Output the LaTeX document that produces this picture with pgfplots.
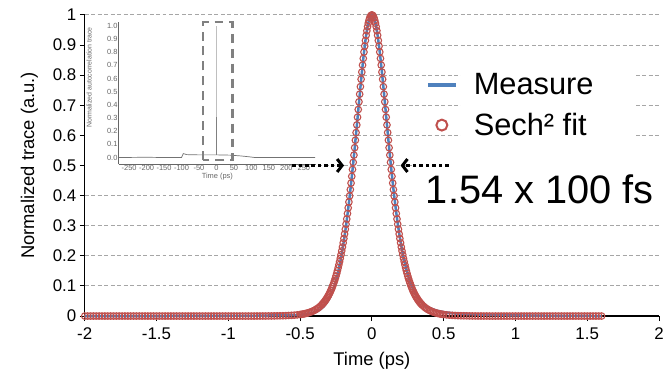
\documentclass[border=0pt]{standalone}
\usepackage{pgfplots}
\pgfplotsset{compat=1.18}
\usepackage{fontspec}
\setmainfont{Liberation Sans}
\usetikzlibrary{arrows.meta}
\definecolor{mblue}{HTML}{4F81BD}
\definecolor{fred}{HTML}{C0504D}
\definecolor{gridgray}{HTML}{A6A6A6}
\pgfplotsset{
  measleg/.style={legend image code/.code={\draw[##1, line width=4bp] (-14bp,0bp) -- (14bp,0bp); \path[draw=none,fill=none] (-15bp,0bp) (31bp,0bp);}},
  fitleg/.style={legend image code/.code={\draw[##1, mark size=5.5bp, mark options={line width=2bp}] plot coordinates {(0bp,0bp)}; \path[draw=none,fill=none] (-15bp,0bp) (31bp,0bp);}},
}
\begin{document}
\begin{tikzpicture}
\begin{axis}[
  name=main, at={(0,0)}, anchor=south west,
  scale only axis, width=576bp, height=302bp,
  xmin=-2, xmax=2, ymin=0, ymax=1,
  axis x line*=bottom, axis y line*=left,
  x axis line style={-}, y axis line style={-},
  axis line style={black, line width=1.2bp},
  xtick={-2,-1.5,-1,-0.5,0,0.5,1,1.5,2},
  xticklabels={-2,-1.5,-1,-0.5,0,0.5,1,1.5,2},
  ytick={0,0.1,0.2,0.3,0.4,0.5,0.6,0.7,0.8,0.9,1},
  yticklabels={0,0.1,0.2,0.3,0.4,0.5,0.6,0.7,0.8,0.9,1},
  tick align=outside, major tick length=5bp,
  tick style={black, line width=1bp},
  tick label style={font=\fontsize{17}{17}\selectfont},
  xticklabel style={yshift=-3bp},
  ymajorgrids, grid style={gridgray, line width=1bp, dash pattern=on 4bp off 2.5bp},
  xlabel={Time (ps)}, ylabel={Normalized trace (a.u.)},
  label style={font=\fontsize{18.5}{19}\selectfont},
  xlabel style={yshift=-6bp},
  ylabel style={yshift=8bp},
  clip=false,
  legend cell align=left,
  legend style={at={(axis cs:0.375,0.700)}, anchor=west, draw=none, fill=none,
    inner sep=0pt, row sep=15bp, font=\fontsize{31}{31}\selectfont,
    nodes={inner sep=1bp}},
]
% white areas behind the inset, the legend and the annotation
\fill[white] (axis cs:-2,0.42) rectangle (axis cs:-0.382,0.983);
\fill[white] (axis cs:0.618,0.57) rectangle (axis cs:1.84,0.855);
\fill[white] (axis cs:0.278,0.338) rectangle (axis cs:2,0.527);

\addplot[mblue, line width=2.5bp, measleg]
  table[row sep=\\] {x y\\
-2.00 0\\ -1.50 0\\ -1.00 0.001\\ -0.80 0.001\\ -0.70 0.002\\ -0.60 0.002\\ -0.55 0.003\\ -0.50 0.004\\ -0.45 0.007\\
-0.40 0.012\\ -0.38 0.016\\ -0.36 0.022\\ -0.34 0.030\\ -0.32 0.041\\ -0.30 0.055\\ -0.29 0.064\\ -0.28 0.075\\
-0.27 0.087\\ -0.26 0.100\\ -0.25 0.117\\ -0.24 0.135\\ -0.23 0.157\\ -0.22 0.180\\ -0.21 0.207\\ -0.20 0.235\\
-0.19 0.266\\ -0.18 0.300\\ -0.17 0.337\\ -0.16 0.376\\ -0.15 0.418\\ -0.14 0.462\\ -0.13 0.508\\ -0.12 0.556\\
-0.11 0.606\\ -0.10 0.657\\ -0.09 0.708\\ -0.08 0.759\\ -0.07 0.808\\ -0.06 0.854\\ -0.05 0.896\\ -0.04 0.932\\
-0.03 0.962\\ -0.02 0.983\\ -0.01 0.996\\ 0.00 1.000\\ 0.01 0.996\\ 0.02 0.983\\ 0.03 0.962\\ 0.04 0.932\\
0.05 0.896\\ 0.06 0.855\\ 0.07 0.810\\ 0.08 0.762\\ 0.09 0.712\\ 0.10 0.661\\ 0.11 0.610\\ 0.12 0.560\\
0.13 0.512\\ 0.14 0.466\\ 0.15 0.422\\ 0.16 0.381\\ 0.17 0.343\\ 0.18 0.308\\ 0.19 0.276\\ 0.20 0.247\\
0.21 0.220\\ 0.22 0.196\\ 0.23 0.175\\ 0.24 0.155\\ 0.25 0.138\\ 0.26 0.123\\ 0.27 0.109\\ 0.28 0.097\\
0.29 0.087\\ 0.30 0.077\\ 0.32 0.062\\ 0.34 0.050\\ 0.36 0.040\\ 0.38 0.033\\ 0.40 0.027\\ 0.45 0.018\\
0.50 0.013\\ 0.55 0.010\\ 0.60 0.008\\ 0.70 0.006\\ 0.80 0.004\\ 0.90 0.003\\ 1.00 0.002\\ 1.20 0.001\\
1.40 0.0005\\ 1.60 0\\
};
\addlegendentry{Measure}

\addplot[fred, only marks, mark=o, mark size=3.3bp, mark options={line width=1.1bp}, fitleg]
  table[row sep=\\] {x y\\
-2.00 0\\ -1.98 0\\ -1.96 0\\ -1.94 0\\ -1.92 0\\ -1.90 0\\ -1.88 0\\ -1.86 0\\ -1.84 0\\ -1.82 0\\
-1.80 0\\ -1.78 0\\ -1.76 0\\ -1.74 0\\ -1.72 0\\ -1.70 0\\ -1.68 0\\ -1.66 0\\ -1.64 0\\ -1.62 0\\
-1.60 0\\ -1.58 0\\ -1.56 0\\ -1.54 0\\ -1.52 0\\ -1.50 0\\ -1.48 0\\ -1.46 0\\ -1.44 0\\ -1.42 0\\
-1.40 0\\ -1.38 0\\ -1.36 0\\ -1.34 0\\ -1.32 0\\ -1.30 0\\ -1.28 0\\ -1.26 0\\ -1.24 0\\ -1.22 0\\
-1.20 0\\ -1.18 0\\ -1.16 0\\ -1.14 0\\ -1.12 0\\ -1.10 0\\ -1.08 0\\ -1.06 0\\ -1.04 0\\ -1.02 0\\
-1.00 0\\ -0.98 0\\ -0.96 0\\ -0.94 0\\ -0.92 0\\ -0.90 0\\ -0.88 0\\ -0.86 0\\ -0.84 0\\ -0.82 0\\
-0.80 0.0001\\ -0.78 0.0001\\ -0.76 0.0002\\ -0.74 0.0002\\ -0.72 0.0003\\ -0.70 0.0004\\ -0.68 0.0005\\ -0.66 0.0007\\ -0.64 0.0008\\ -0.62 0.0010\\
-0.60 0.0013\\ -0.58 0.0018\\ -0.56 0.0023\\ -0.54 0.0030\\ -0.52 0.0039\\
-0.50 0.0051\\ -0.49 0.0058\\ -0.48 0.0066\\ -0.47 0.0076\\ -0.46 0.0086\\ -0.45 0.0099\\ -0.44 0.0113\\ -0.43 0.0129\\
-0.42 0.0147\\ -0.41 0.0168\\ -0.40 0.0191\\ -0.39 0.0218\\ -0.38 0.0249\\ -0.37 0.0284\\ -0.36 0.0324\\
-0.350 0.0369\\ -0.345 0.0394\\ -0.340 0.0421\\ -0.335 0.0449\\ -0.330 0.0479\\ -0.325 0.0511\\ -0.320 0.0546\\
-0.315 0.0582\\ -0.310 0.0621\\ -0.305 0.0663\\ -0.300 0.0707\\ -0.295 0.0753\\ -0.290 0.0803\\ -0.285 0.0856\\
-0.280 0.0912\\ -0.275 0.0972\\ -0.270 0.1036\\ -0.265 0.1103\\ -0.260 0.1174\\ -0.255 0.1250\\ -0.250 0.1330\\
-0.245 0.1415\\ -0.240 0.1505\\ -0.235 0.1600\\ -0.230 0.1701\\ -0.225 0.1807\\ -0.220 0.1919\\ -0.215 0.2037\\
-0.210 0.2162\\ -0.205 0.2292\\ -0.200 0.2430\\ -0.195 0.2574\\ -0.190 0.2726\\ -0.185 0.2884\\ -0.180 0.3050\\
-0.175 0.3223\\ -0.170 0.3404\\ -0.165 0.3592\\ -0.160 0.3787\\ -0.155 0.3990\\ -0.150 0.4200\\ -0.145 0.4416\\
-0.140 0.4640\\ -0.135 0.4869\\ -0.130 0.5105\\ -0.125 0.5345\\ -0.120 0.5591\\ -0.115 0.5840\\ -0.110 0.6093\\
-0.105 0.6347\\ -0.100 0.6604\\ -0.095 0.6860\\ -0.090 0.7116\\ -0.085 0.7369\\ -0.080 0.7618\\ -0.075 0.7865\\
-0.070 0.8103\\ -0.065 0.8335\\ -0.060 0.8556\\ -0.055 0.8768\\ -0.050 0.8966\\ -0.045 0.9151\\ -0.040 0.9322\\
-0.035 0.9475\\ -0.030 0.9610\\ -0.025 0.9727\\ -0.020 0.9825\\ -0.015 0.9901\\ -0.010 0.9956\\ -0.005 0.9989\\
0.000 1.0000\\
0.005 0.9989\\ 0.010 0.9956\\ 0.015 0.9901\\ 0.020 0.9825\\ 0.025 0.9727\\ 0.030 0.9610\\ 0.035 0.9475\\
0.040 0.9322\\ 0.045 0.9151\\ 0.050 0.8966\\ 0.055 0.8768\\ 0.060 0.8556\\ 0.065 0.8335\\ 0.070 0.8103\\
0.075 0.7865\\ 0.080 0.7618\\ 0.085 0.7369\\ 0.090 0.7116\\ 0.095 0.6860\\ 0.100 0.6604\\ 0.105 0.6347\\
0.110 0.6093\\ 0.115 0.5840\\ 0.120 0.5591\\ 0.125 0.5345\\ 0.130 0.5105\\ 0.135 0.4869\\ 0.140 0.4640\\
0.145 0.4416\\ 0.150 0.4200\\ 0.155 0.3990\\ 0.160 0.3787\\ 0.165 0.3592\\ 0.170 0.3404\\ 0.175 0.3223\\
0.180 0.3050\\ 0.185 0.2884\\ 0.190 0.2726\\ 0.195 0.2574\\ 0.200 0.2430\\ 0.205 0.2292\\ 0.210 0.2162\\
0.215 0.2037\\ 0.220 0.1919\\ 0.225 0.1807\\ 0.230 0.1701\\ 0.235 0.1600\\ 0.240 0.1505\\ 0.245 0.1415\\
0.250 0.1330\\ 0.255 0.1250\\ 0.260 0.1174\\ 0.265 0.1103\\ 0.270 0.1036\\ 0.275 0.0972\\ 0.280 0.0912\\
0.285 0.0856\\ 0.290 0.0803\\ 0.295 0.0753\\ 0.300 0.0707\\ 0.305 0.0663\\ 0.310 0.0621\\ 0.315 0.0582\\
0.320 0.0546\\ 0.325 0.0511\\ 0.330 0.0479\\ 0.335 0.0449\\ 0.340 0.0421\\ 0.345 0.0394\\ 0.350 0.0369\\
0.36 0.0324\\ 0.37 0.0284\\ 0.38 0.0249\\ 0.39 0.0218\\ 0.40 0.0191\\ 0.41 0.0168\\ 0.42 0.0147\\ 0.43 0.0129\\
0.44 0.0113\\ 0.45 0.0099\\ 0.46 0.0086\\ 0.47 0.0076\\ 0.48 0.0066\\ 0.49 0.0058\\ 0.50 0.0051\\
0.52 0.0039\\ 0.54 0.0030\\ 0.56 0.0023\\ 0.58 0.0018\\ 0.60 0.0013\\
0.62 0.0010\\ 0.64 0.0008\\ 0.66 0.0007\\ 0.68 0.0005\\ 0.70 0.0004\\ 0.72 0.0003\\ 0.74 0.0002\\ 0.76 0.0002\\ 0.78 0.0001\\ 0.80 0.0001\\
0.82 0\\ 0.84 0\\ 0.86 0\\ 0.88 0\\ 0.90 0\\ 0.92 0\\ 0.94 0\\ 0.96 0\\ 0.98 0\\ 1.00 0\\
1.02 0\\ 1.04 0\\ 1.06 0\\ 1.08 0\\ 1.10 0\\ 1.12 0\\ 1.14 0\\ 1.16 0\\ 1.18 0\\ 1.20 0\\
1.22 0\\ 1.24 0\\ 1.26 0\\ 1.28 0\\ 1.30 0\\ 1.32 0\\ 1.34 0\\ 1.36 0\\ 1.38 0\\ 1.40 0\\
1.42 0\\ 1.44 0\\ 1.46 0\\ 1.48 0\\ 1.50 0\\ 1.52 0\\ 1.54 0\\ 1.56 0\\ 1.58 0\\ 1.60 0\\
};
\addlegendentry{Sech² fit}

\coordinate (la0) at (axis cs:-0.556,0.5);
\coordinate (la1) at (axis cs:-0.194,0.5);
\coordinate (ra0) at (axis cs:0.535,0.5);
\coordinate (ra1) at (axis cs:0.200,0.5);
\coordinate (tx) at (axis cs:0.375,0.374);
\end{axis}

% inset: autocorrelation trace
\begin{axis}[
  at={(34bp,152.4bp)}, anchor=south west,
  scale only axis, width=198bp, height=142.6bp,
  xmin=-280, xmax=285, ymin=-0.05, ymax=1.03,
  axis x line*=bottom, axis y line*=left,
  x axis line style={-}, y axis line style={-},
  axis line style={black!60, line width=0.8bp},
  xtick={-250,-200,-150,-100,-50,0,50,100,150,200,250},
  xticklabels={-250,-200,-150,-100,-50,0,50,100,150,200,250},
  ytick={0,0.1,0.2,0.3,0.4,0.5,0.6,0.7,0.8,0.9,1},
  yticklabels={0.0,0.1,0.2,0.3,0.4,0.5,0.6,0.7,0.8,0.9,1.0},
  major tick length=0pt,
  tick label style={font=\fontsize{7.5}{8}\selectfont, text=black!60, inner sep=1bp},
  xlabel={Time (ps)}, ylabel={Normalized autocorrelation trace},
  xlabel style={font=\fontsize{7.5}{8}\selectfont, text=black!60, inner sep=1bp},
  every axis y label/.style={at={(axis description cs:-0.15,0.61)}, rotate=90, anchor=center,
    font=\fontsize{7}{7}\selectfont, text=black!60},
  clip=false,
]
\addplot[black!55, line width=0.7bp] coordinates {
(-280,0.0) (-200,0.002) (-150,0.0) (-100,0.0) (-95,0.03) (-85,0.022) (-50,0.02) (-5,0.02)
(5,0.02) (40,0.018) (70,0.012) (95,0.005) (110,0.0) (200,0.0) (282,0.0)};
\addplot[black!25, line width=1bp] coordinates {(0,0.30) (0,1.0)};
\addplot[black!50, line width=1bp] coordinates {(0,0.02) (0,0.31)};
\draw[black!50, line width=2.6bp, dash pattern=on 9bp off 6bp] (axis cs:-38,-0.02) rectangle (axis cs:46,1.03);
\end{axis}

% FWHM annotation
\draw[black, line width=3.5bp, dash pattern=on 3.5bp off 3bp,
  -{Straight Barb[length=5bp,width=13bp,line width=3bp]}] (la0) -- (la1);
\draw[black, line width=3.5bp, dash pattern=on 3.5bp off 3bp,
  -{Straight Barb[length=5bp,width=13bp,line width=3bp]}] (ra0) -- (ra1);
\node[anchor=base west, font=\fontsize{40}{40}\selectfont, inner sep=0pt] at (tx) {1.54 x 100 fs};

\pgfresetboundingbox
\path[use as bounding box] (-85bp,-64bp) rectangle (581bp,317bp);
\end{tikzpicture}
\end{document}
